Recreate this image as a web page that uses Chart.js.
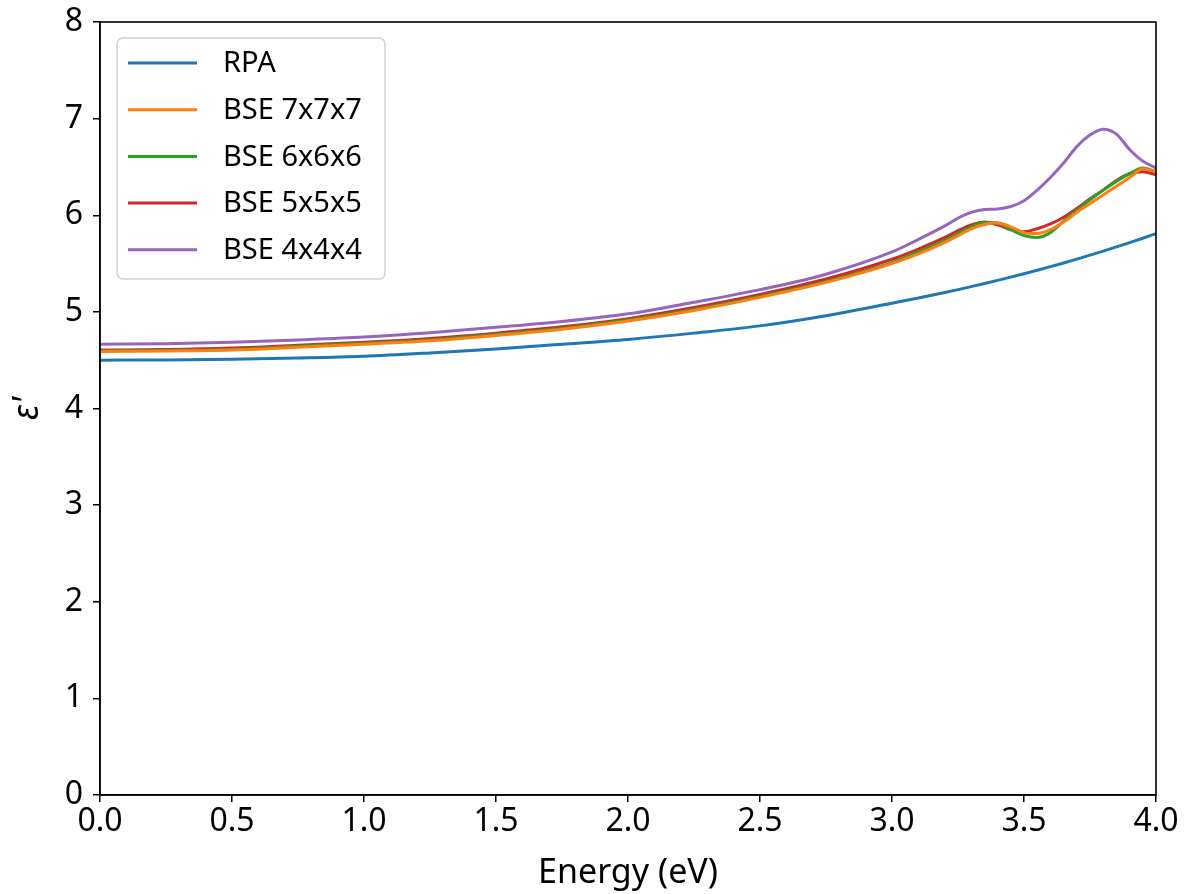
<!DOCTYPE html>
<html>
<head>
<meta charset="utf-8">
<script src="https://cdn.jsdelivr.net/npm/chart.js@4/dist/chart.umd.min.js"></script>
<style>
  html, body { margin: 0; padding: 0; background: #fff; }
  #wrap { width: 1193px; height: 894px; }
</style>
</head>
<body>
<div id="wrap"><canvas id="epsChart" width="1193" height="894"></canvas></div>
<script>
// energy grid (eV)
const energy = [0, 0.25, 0.5, 0.75, 1.0, 1.25, 1.5, 1.75, 2.0, 2.25, 2.5, 2.75, 3.0, 3.1, 3.2,
  3.25, 3.3, 3.35, 3.4, 3.45, 3.5, 3.55, 3.6, 3.65, 3.7, 3.75, 3.8, 3.85, 3.9, 3.95, 4.0];

const rpa = [4.50, 4.503, 4.51, 4.522, 4.54, 4.575, 4.617, 4.665, 4.715, 4.78, 4.855, 4.96, 5.09, 5.143, 5.20,
  5.23, 5.261, 5.293, 5.326, 5.36, 5.395, 5.431, 5.468, 5.506, 5.546, 5.587, 5.629, 5.672, 5.716, 5.762, 5.81];
const bse7 = [4.59, 4.595, 4.605, 4.635, 4.665, 4.70, 4.755, 4.82, 4.905, 5.015, 5.15, 5.305, 5.50, 5.60, 5.72,
  5.79, 5.86, 5.905, 5.92, 5.88, 5.82, 5.81, 5.85, 5.93, 6.03, 6.12, 6.21, 6.30, 6.39, 6.48, 6.45];
const bse6 = [4.595, 4.60, 4.61, 4.645, 4.675, 4.71, 4.765, 4.83, 4.915, 5.025, 5.16, 5.315, 5.51, 5.62, 5.74,
  5.81, 5.88, 5.925, 5.92, 5.85, 5.79, 5.77, 5.82, 5.94, 6.05, 6.16, 6.26, 6.35, 6.43, 6.49, 6.45];
const bse5 = [4.605, 4.61, 4.625, 4.655, 4.685, 4.725, 4.78, 4.845, 4.93, 5.045, 5.18, 5.34, 5.545, 5.65, 5.77,
  5.84, 5.90, 5.93, 5.90, 5.85, 5.83, 5.86, 5.91, 5.98, 6.07, 6.17, 6.26, 6.36, 6.43, 6.45, 6.42];
const bse4 = [4.665, 4.67, 4.685, 4.71, 4.74, 4.785, 4.84, 4.90, 4.98, 5.10, 5.23, 5.39, 5.62, 5.75, 5.89,
  5.97, 6.03, 6.06, 6.065, 6.09, 6.15, 6.26, 6.39, 6.54, 6.71, 6.83, 6.89, 6.84, 6.68, 6.56, 6.49];

const seriesNames = ['RPA', 'BSE 7x7x7', 'BSE 6x6x6', 'BSE 5x5x5', 'BSE 4x4x4'];
const seriesValues = [rpa, bse7, bse6, bse5, bse4];
const seriesColors = ['#1f77b4', '#ff7f0e', '#2ca02c', '#d62728', '#9467bd'];

const xTicks = [0, 0.5, 1.0, 1.5, 2.0, 2.5, 3.0, 3.5, 4.0];
const yTicks = [0, 1, 2, 3, 4, 5, 6, 7, 8];

const FONT = '"Noto Sans", "DejaVu Sans", sans-serif';

// frame around the plot + legend box like matplotlib
const framePlugin = {
  id: 'frame',
  afterDraw(chart) {
    const { ctx, chartArea: a } = chart;
    ctx.save();
    ctx.strokeStyle = '#000';
    ctx.lineWidth = 1.6;
    ctx.strokeRect(a.left, a.top, a.right - a.left, a.bottom - a.top);

    // legend
    const bx = a.left + 17, by = a.top + 16, bw = 268, bh = 241;
    ctx.beginPath();
    ctx.roundRect(bx, by, bw, bh, 6);
    ctx.fillStyle = 'rgba(255,255,255,0.8)';
    ctx.fill();
    ctx.strokeStyle = '#d0d0d0';
    ctx.lineWidth = 1.5;
    ctx.stroke();
    ctx.font = '29px ' + FONT;
    ctx.textBaseline = 'middle';
    chart.data.datasets.forEach((ds, i) => {
      const y = by + 25 + i * 46.7;
      ctx.strokeStyle = ds.borderColor;
      ctx.lineWidth = 3;
      ctx.beginPath();
      ctx.moveTo(bx + 11, y);
      ctx.lineTo(bx + 80, y);
      ctx.stroke();
      ctx.fillStyle = '#000';
      ctx.fillText(ds.label, bx + 106, y + 1);
    });
    ctx.restore();
  }
};

const ctx = document.getElementById('epsChart').getContext('2d');
new Chart(ctx, {
  type: 'line',
  data: {
    datasets: seriesNames.map((name, i) => ({
      label: name,
      data: energy.map((e, j) => ({ x: e, y: seriesValues[i][j] })),
      borderColor: seriesColors[i],
      backgroundColor: seriesColors[i],
      borderWidth: 3,
      pointRadius: 0,
      cubicInterpolationMode: 'monotone',
      fill: false
    }))
  },
  options: {
    responsive: false,
    animation: false,
    layout: { padding: { top: 22, right: 37, left: 0, bottom: 0 } },
    plugins: { legend: { display: false }, tooltip: { enabled: false } },
    scales: {
      x: {
        type: 'linear',
        min: 0, max: 4,
        afterBuildTicks: s => { s.ticks = xTicks.map(v => ({ value: v })); },
        afterFit: s => { s.height = 99; s.paddingLeft = 0; s.paddingRight = 0; },
        grid: { drawOnChartArea: false, tickLength: 7, color: '#000', lineWidth: 1.5 },
        border: { display: true, color: '#000', width: 1.6 },
        ticks: {
          color: '#000',
          font: { family: FONT, size: 32 },
          padding: 1,
          maxRotation: 0,
          callback: v => v.toFixed(1)
        },
        title: {
          display: true,
          text: 'Energy (eV)',
          color: '#000',
          font: { family: FONT, size: 34 },
          padding: { top: 0, bottom: 0 }
        }
      },
      y: {
        type: 'linear',
        min: 0, max: 8,
        afterBuildTicks: s => { s.ticks = yTicks.map(v => ({ value: v })); },
        afterFit: s => { s.width = 100; s.paddingTop = 0; s.paddingBottom = 0; },
        grid: { drawOnChartArea: false, tickLength: 7, color: '#000', lineWidth: 1.5 },
        border: { display: true, color: '#000', width: 1.6 },
        ticks: {
          color: '#000',
          font: { family: FONT, size: 32 },
          padding: 10,
          callback: v => String(v)
        },
        title: {
          display: true,
          text: "ε'",
          color: '#000',
          font: { family: FONT, size: 36, style: 'italic' },
          padding: { top: 6, bottom: 0 }
        }
      }
    }
  },
  plugins: [framePlugin]
});
</script>
</body>
</html>
